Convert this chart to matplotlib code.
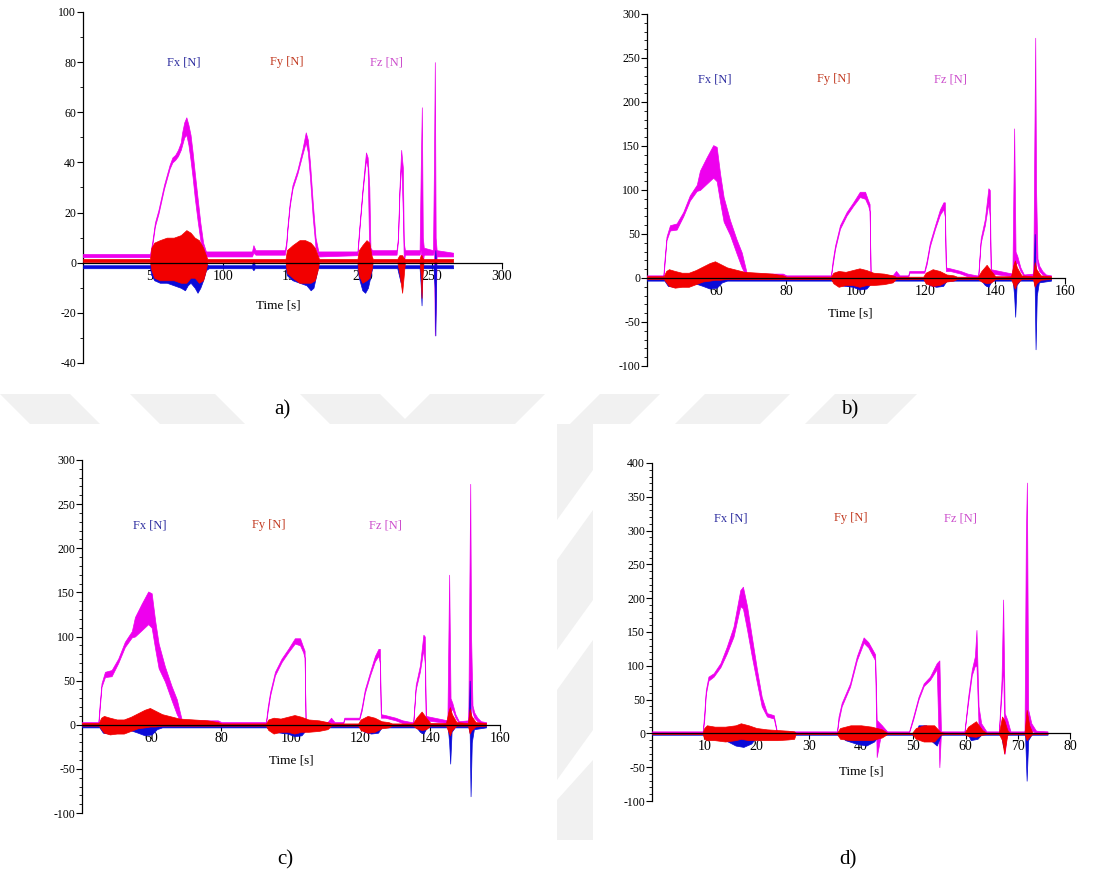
import numpy as np
import matplotlib
matplotlib.use('Agg')
import matplotlib.pyplot as plt
from matplotlib.patches import Polygon

plt.rcParams['font.family'] = ['Liberation Serif', 'DejaVu Serif']
plt.rcParams['axes.unicode_minus'] = False

W, H = 1120, 874

# force envelopes, one (time, upper, lower) row per breakpoint

# --- test a) ---
FZ_A = [(0, 3.5, 2.2), (48, 3.5, 2.2), (49.5, 8, 6.5), (51.5, 16, 14.5), (54, 21, 19.5),
        (56, 26, 24.5), (58, 31, 29.5), (60, 35, 33.5), (62, 39, 37.5), (64, 42, 40),
        (66, 43, 41), (68, 45, 42.5), (70, 48, 45), (71, 52, 47), (72.5, 56, 50), (74, 58, 51),
        (75.5, 55, 47), (77, 51, 41), (78.5, 44, 34), (80, 36, 26), (82, 26, 17), (84, 16, 9),
        (86, 8, 4), (88, 4.5, 2.5), (121, 4.5, 2.5), (122, 7, 4), (123.5, 5, 3.2),
        (144.5, 5, 3.2), (145.5, 8, 6.5), (146.3, 14, 12.5), (148, 24, 22.5), (150, 31, 29.5),
        (153.5, 37, 35.5), (157, 45, 43), (159.5, 52, 48), (161, 49, 44), (162.5, 40, 34),
        (164.5, 24, 18), (166.5, 10, 6), (168.5, 4.5, 2.5), (196.5, 4.5, 3), (197.8, 14, 12.5),
        (200.2, 30, 28.5), (202.6, 44, 41), (203.8, 42, 38), (205, 30, 3), (205.8, 6, 3),
        (207, 5, 3.2), (224.5, 5, 3.2), (225.5, 10, 8.5), (226.6, 30, 28), (227.8, 45, 40),
        (229, 38, 20), (229.7, 8, 0), (230.5, 5, 3.2), (241, 5, 3.2), (241.9, 40, 5),
        (242.6, 62, -2), (243.3, 10, 0), (244, 6, 3.2), (250.6, 5, 3.2), (251.3, 40, 5),
        (251.9, 80, -29), (252.5, 10, -20), (253.2, 5, 2.5), (265, 4, 2.5)]
FY_A = [(0, 1.5, 0.3), (48, 1.5, 0.3), (49, 6, -3), (51, 8, -6), (55, 9, -7), (60, 10, -7),
        (65, 10, -7), (70, 11, -8), (74, 13, -8), (77, 12, -6), (80, 10, -6), (83, 9, -8),
        (86, 6, -7), (88, 3, -3), (89, 1.5, 0.3), (145, 1.5, 0.3), (146, 5, -4), (150, 7, -6),
        (155, 9, -8), (159, 9, -8), (163, 8, -8), (166, 6, -7), (168, 3, -3), (169, 1.5, 0.3),
        (196.5, 1.5, 0.3), (197.5, 5, -5), (200, 7, -8), (203, 9, -7), (205, 8, -6),
        (206.5, 3, -3), (207.5, 1.5, 0.3), (225, 1.5, 0.3), (226.5, 3, -4), (228.5, 3, -12),
        (229.5, 2, -6), (230.5, 1.5, 0.3), (241, 1.5, 0.3), (241.8, 3, -5), (242.4, 3, -14),
        (243, 2, -6), (243.8, 1.5, 0.3), (265, 1.5, 0.3)]
FX_A = [(0, -1, -2.2), (48, -1, -2.2), (49, 0, -5), (51, 0, -7), (55, 0, -8), (60, 0, -8),
        (65, 0, -9), (70, 0, -10), (73, 0, -11), (75, 0, -9), (77, 0, -8), (80, 0, -10),
        (82, 0, -12), (84, 0, -10), (86, 0, -7), (88, -0.5, -3), (90, -1, -2.2),
        (121, -1, -2.2), (122, 1, -3), (123, -1, -2.2), (145, -1, -2.2), (146, 0, -5),
        (150, 0, -7), (155, 0, -8), (160, 0, -9), (163, 0, -11), (165, 0, -10), (167, 0, -5),
        (168, -1, -2.2), (196.5, -1, -2.2), (197.5, 2, -6), (200, 3, -11), (202, 5, -12),
        (204, 3, -10), (206, 0, -5), (207, -1, -2.2), (225, -1, -2.2), (227.5, -1, -8),
        (229, -1, -2.2), (241, -1, -2.2), (241.8, -1, -9), (242.4, -1, -17),
        (243, -1, -2.2), (251, -1, -2.2), (251.8, -1, -10), (252.3, 5, -29),
        (252.8, -1, -2.2), (265, -1, -2.2)]

# --- tests b) and c) (same record) ---
FZ_B = [(40, 3, 1.5), (44.7, 3, 1.5), (45.0, 20, 14), (45.6, 47, 43), (46.6, 60, 54),
        (48.5, 62, 55), (50.4, 75, 70), (52.3, 94, 88), (54.3, 106, 99), (55.2, 122, 100),
        (57.1, 137, 107), (59, 151, 114), (60, 149, 110), (61, 118, 86), (62, 92, 64),
        (63.8, 66, 49), (65.7, 44, 28), (67.2, 29, 12), (68.6, 6, 1), (69.5, 5, 2), (79, 5, 2),
        (80, 3, 1.5), (92.8, 3, 1.5), (93.3, 20, 15), (94, 37, 33), (95.4, 60, 56),
        (97.3, 75, 71), (99.2, 86, 82), (101.1, 98, 92), (102.6, 98, 90), (103.5, 88, 82),
        (103.9, 84, 76), (104.2, 3, 1.5), (110.5, 3, 1.5), (111.5, 8, 2), (112.5, 3, 1.5),
        (115, 3, 1.5), (115.3, 8, 6), (119.6, 8, 6), (120.3, 20, 16), (121.2, 40, 36),
        (122.7, 60, 56), (124.1, 78, 72), (125.1, 86, 78), (125.5, 86, 70), (125.8, 12, 8),
        (127, 11, 8), (130, 8, 5), (132, 5, 2), (134.6, 3, 1.5), (135.1, 3, 1.5),
        (135.8, 45, 40), (137, 67, 60), (138, 102, 85), (138.4, 100, 70), (138.7, 10, 5),
        (144.9, 5, 2), (145.4, 170, 2), (145.8, 30, 15), (146.3, 25, 18), (147.2, 12, 8),
        (148.2, 4, 2), (150.9, 5, 2), (151.2, 155, 40), (151.45, 273, -10), (151.7, 100, 30),
        (152.1, 22, 14), (152.6, 14, 8), (153.5, 8, 4), (154.5, 4, 2), (156, 3, 1.5)]
FY_B = [(40, 2, -1), (44.8, 2, -1), (45.5, 8, -5), (46.3, 10, -9), (48, 8, -11), (50, 6, -10),
        (52, 6, -10), (54, 9, -7), (56, 13, -4), (58, 17, -3), (59.5, 19, -2), (61, 16, -2),
        (63, 12, -1), (65, 10, -1), (68, 7, -1), (72, 6, -1), (76, 5, -1), (79, 3, -1),
        (80, 1.5, -1), (92.8, 1.5, -1), (93.5, 6, -6), (95, 8, -10), (97, 7, -8), (99, 9, -8),
        (101, 11, -10), (103, 9, -8), (105, 6, -8), (108, 5, -7), (110.5, 3, -5),
        (111.5, 1.5, -1), (119.3, 1.5, -1), (120, 6, -6), (122, 10, -9), (124, 8, -8),
        (126, 4, -4), (128, 3, -3), (129, 1.5, -1), (135, 1.5, -1), (136, 8, -4),
        (137.5, 15, -6), (138.8, 8, -5), (140, 2, -1), (144.5, 2, -1), (145.2, 15, -8),
        (145.6, 20, -12), (146.2, 12, -6), (147.5, 3, -1), (150.8, 2, -1), (151.3, 18, -10),
        (151.8, 10, -6), (153, 3, -2), (156, 2, -1)]
FX_B = [(40, -0.5, -3), (45, -0.5, -3), (46, 0, -9), (48, 0, -10), (50, 0, -8), (53, 0, -5),
        (56, 0, -9), (58, 0, -12), (60, 0, -11), (61.5, 0, -5), (63, -0.5, -3), (93, -0.5, -3),
        (95, 0, -8), (99, 0, -10), (101, 0, -13), (103, 0, -12), (104.5, 0, -5), (106, -0.5, -3),
        (120, -0.5, -3), (121, 0, -8), (123, 0, -10), (125, 0, -9), (126, -0.5, -3),
        (136, -0.5, -3), (137, 0, -8), (138, 0, -10), (139, -0.5, -3), (145, -0.5, -3),
        (145.4, 0, -20), (145.7, 0, -44), (146.1, 0, -8), (147, -0.5, -3), (151, -0.5, -3),
        (151.3, 50, -10), (151.55, 5, -81), (151.9, 0, -20), (152.5, -0.5, -5), (156, -0.5, -3)]

# --- test d) ---
FZ_D = [(0, 3, 0.5), (9.7, 3, 0.5), (10.0, 30, 20), (10.3, 64, 58), (10.8, 84, 78),
        (11.8, 89, 84), (13.1, 104, 98), (14.3, 128, 118), (15.6, 158, 143), (16.9, 212, 188),
        (17.4, 217, 185), (18.2, 188, 153), (19.1, 143, 114), (20.1, 94, 74), (21, 54, 40),
        (22, 30, 25), (23.3, 27, 22), (23.9, 3, 1), (35.4, 3, 1), (35.7, 25, 18), (36.3, 45, 40),
        (37.9, 74, 69), (39.2, 114, 108), (40.5, 142, 134), (41.4, 135, 127), (42.7, 117, 108),
        (43.0, 20, -35), (44, 12, 6), (45, 3, 1), (49.2, 3, 1), (50, 25, 21), (51, 54, 50),
        (52, 74, 70), (53.2, 84, 79), (54.5, 104, 95), (55.0, 108, -50), (55.3, 3, 1),
        (59.8, 3, 1), (60.5, 54, 46), (61.2, 94, 86), (61.8, 114, 100), (62.1, 153, 100),
        (62.5, 40, 12), (63, 15, 6), (64, 3, 1), (66.4, 3, 1), (66.9, 80, 60), (67.2, 198, 100),
        (67.5, 30, -30), (68, 20, 5), (68.6, 3, 1), (71.3, 3, 1), (71.55, 290, 20),
        (71.75, 371, -10), (72.0, 35, 5), (72.6, 15, 4), (73.5, 4, 1), (75.7, 3, 1)]
FY_D = [(0, 1, -1), (9.7, 1, -1), (10, 8, -8), (10.5, 12, -10), (12, 10, -10), (14, 10, -12),
        (16, 12, -10), (17, 15, -8), (18.5, 12, -10), (20, 8, -10), (22, 6, -10), (24, 5, -10),
        (26, 4, -9), (27.2, 3, -8), (27.5, 1, -1), (35.4, 1, -1), (36, 8, -8), (38, 12, -10),
        (40, 12, -10), (42, 10, -10), (44, 6, -6), (45, 1, -1), (49.8, 1, -1), (50.5, 8, -8),
        (52, 12, -12), (54, 12, -12), (55.2, 2, -2), (56, 1, -1), (59.8, 1, -1), (60.5, 10, -4),
        (62, 18, -5), (63.2, 5, -2), (64, 1, -1), (66.4, 1, -1), (67, 25, -10), (67.4, 20, -30),
        (68, 5, -2), (68.5, 1, -1), (71.3, 1, -1), (71.7, 35, -10), (72.2, 12, -5),
        (72.8, 1, -1), (75.7, 1, -1)]
FX_D = [(0, 0, -2), (10, 0, -2), (11, 0, -8), (14, 0, -10), (16, 0, -18), (17.5, 0, -20),
        (19, 0, -15), (20, 0, -5), (21, 0, -2), (36, 0, -2), (37, 0, -10), (39, 0, -15),
        (41, 0, -18), (42.5, 0, -12), (43.5, 0, -2), (50.5, 0, -2), (51, 12, -2), (52.5, 12, -4),
        (53, 0, -8), (54.5, 0, -18), (55.3, 0, -2), (60.5, 0, -2), (61, 0, -10), (62.3, 0, -8),
        (63, 0, -2), (66.8, 0, -2), (67.2, 0, -20), (67.6, 0, -2), (71.4, 0, -2),
        (71.7, 0, -70), (72.0, 0, -10), (72.6, 0, -2), (75.7, 0, -2)]

FX_COL, FY_COL, FZ_COL = '#0a0ad8', '#f20000', '#ee00ee'
LABEL_COLS = ['#2e2ea0', '#c23b22', '#cc4fcc']
LABELS = ['Fx [N]', 'Fy [N]', 'Fz [N]']

# panel layout: pixel box (left, top, right, bottom), limits, ticks, label spots
PANELS = [
    dict(box=(83, 12, 502, 363), data=(FX_A, FY_A, FZ_A), xlim=(0, 300), ylim=(-40, 100),
         xticks=[50, 100, 150, 200, 250, 300], ymajor=20,
         lab_x=[72, 146, 217], lab_y=80, time=(140, -17), tag='a)', tag_xy=(282, 410)),
    dict(box=(647, 14, 1065, 366), data=(FX_B, FY_B, FZ_B), xlim=(40, 160), ylim=(-100, 300),
         xticks=[60, 80, 100, 120, 140, 160], ymajor=50,
         lab_x=[59.5, 93.5, 127], lab_y=226, time=(98.5, -40), tag='b)', tag_xy=(850, 410)),
    dict(box=(82, 460, 500, 813), data=(FX_B, FY_B, FZ_B), xlim=(40, 160), ylim=(-100, 300),
         xticks=[60, 80, 100, 120, 140, 160], ymajor=50,
         lab_x=[59.5, 93.5, 127], lab_y=226, time=(100, -40), tag='c)', tag_xy=(285, 860)),
    dict(box=(652, 463, 1070, 801), data=(FX_D, FY_D, FZ_D), xlim=(0, 80), ylim=(-100, 400),
         xticks=[10, 20, 30, 40, 50, 60, 70, 80], ymajor=50,
         lab_x=[15, 38, 59], lab_y=318, time=(40, -57), tag='d)', tag_xy=(848, 860)),
]


def px(x, y):
    return x / W, 1 - y / H


def band(ax, pts, color, z):
    t, hi, lo = np.array(pts, dtype=float).T
    ax.fill_between(t, lo, hi, color=color, lw=0.5, zorder=z)


fig = plt.figure(figsize=(W / 100, H / 100), dpi=100)

# faint watermark stripes behind the pasted plots
GRAY = '#f1f1f1'
shapes = [
    [(0, 394), (70, 394), (100, 424), (30, 424)],
    [(130, 394), (215, 394), (245, 424), (160, 424)],
    [(300, 394), (380, 394), (410, 424), (330, 424)],
    [(430, 394), (545, 394), (515, 424), (400, 424)],
    [(600, 394), (660, 394), (630, 424), (570, 424)],
    [(705, 394), (790, 394), (760, 424), (675, 424)],
    [(835, 394), (917, 394), (887, 424), (805, 424)],
    [(557, 424), (593, 424), (593, 470), (557, 520)],
    [(557, 560), (593, 510), (593, 600), (557, 650)],
    [(557, 690), (593, 640), (593, 730), (557, 780)],
    [(557, 800), (593, 760), (593, 840), (557, 840)],
]
for s in shapes:
    fig.patches.append(Polygon([px(*p) for p in s], closed=True, transform=fig.transFigure,
                               facecolor=GRAY, edgecolor='none', zorder=-2))

for p in PANELS:
    l, t, r, b = p['box']
    x0, y0 = px(l, b)
    ax = fig.add_axes([x0, y0, (r - l) / W, (b - t) / H])
    ax.patch.set_alpha(0)
    ax.set_xlim(*p['xlim'])
    ax.set_ylim(*p['ylim'])

    fx, fy, fz = p['data']
    band(ax, fz, FZ_COL, 3.0)
    band(ax, fx, FX_COL, 3.1)
    band(ax, fy, FY_COL, 3.2)

    ax.spines['top'].set_visible(False)
    ax.spines['right'].set_visible(False)
    ax.spines['bottom'].set_position(('data', 0))
    ax.spines['bottom'].set_zorder(4)
    for sp in ('left', 'bottom'):
        ax.spines[sp].set_linewidth(0.9)

    ymin, ymax = p['ylim']
    ax.set_yticks(np.arange(ymin, ymax + 1, p['ymajor']))
    ax.set_yticks(np.arange(ymin, ymax + 1, 10), minor=True)
    ax.set_xticks(p['xticks'])
    ax.tick_params(axis='y', which='major', length=4, width=0.8, labelsize=8.5, pad=1)
    ax.tick_params(axis='y', which='minor', length=2, width=0.6)
    ax.tick_params(axis='x', which='major', length=4, width=0.8, labelsize=10, pad=1)

    for x, text, c in zip(p['lab_x'], LABELS, LABEL_COLS):
        ax.text(x, p['lab_y'], text, color=c, fontsize=9, ha='center', va='center')
    tx, ty = p['time']
    ax.text(tx, ty, 'Time [s]', fontsize=9.5, ha='center', va='center')

    fig.text(*px(*p['tag_xy']), p['tag'], fontsize=15, ha='center', va='center')

fig.savefig('out.png', dpi=100, facecolor='white')
